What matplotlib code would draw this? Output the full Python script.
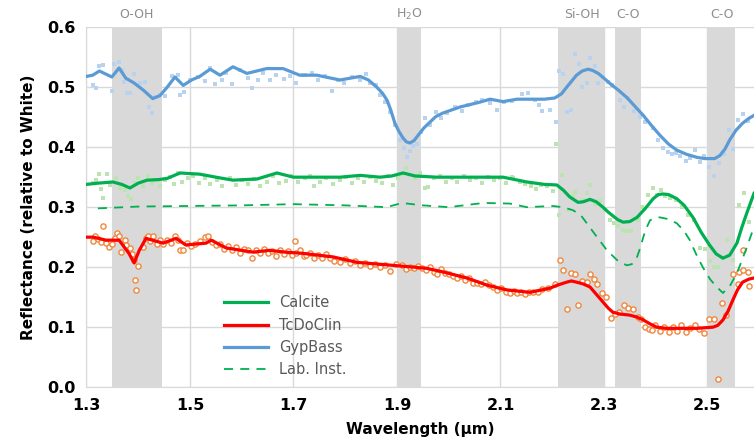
import matplotlib.pyplot as plt

plt.rcParams['font.family'] = ['DejaVu Sans']

# absorption bands (start, end, label)
bandes_debut = [1.350, 1.900, 2.211, 2.321, 2.502]
bandes_fin = [1.445, 1.946, 2.303, 2.371, 2.553]
bandes_nom = ['O-OH', 'H$_2$O', 'Si-OH', 'C-O', 'C-O']

# GypBass smoothed line
gyp_lam = [1.30, 1.312, 1.325, 1.337, 1.349, 1.363, 1.376, 1.392, 1.41, 1.428, 1.442, 1.456,
           1.471, 1.487, 1.503, 1.519, 1.539, 1.558, 1.583, 1.61, 1.648, 1.68, 1.712, 1.745,
           1.79, 1.829, 1.845, 1.861, 1.872, 1.881, 1.888, 1.896, 1.904, 1.912, 1.918, 1.925,
           1.933, 1.941, 1.952, 1.964, 1.975, 1.989, 2.022, 2.06, 2.08, 2.105, 2.132, 2.157,
           2.185, 2.205, 2.218, 2.228, 2.247, 2.258, 2.269, 2.278, 2.289, 2.30, 2.312, 2.328,
           2.344, 2.36, 2.376, 2.392, 2.408, 2.425, 2.441, 2.46, 2.48, 2.495, 2.514, 2.524,
           2.534, 2.543, 2.555, 2.568, 2.58, 2.59]
gyp_val = [0.518, 0.520, 0.527, 0.522, 0.517, 0.532, 0.515, 0.507, 0.495, 0.481, 0.486, 0.500,
           0.517, 0.503, 0.512, 0.518, 0.530, 0.520, 0.534, 0.523, 0.531, 0.531, 0.520, 0.520,
           0.512, 0.518, 0.512, 0.500, 0.490, 0.478, 0.462, 0.440, 0.426, 0.415, 0.409, 0.407,
           0.411, 0.420, 0.432, 0.442, 0.451, 0.457, 0.467, 0.475, 0.480, 0.476, 0.480, 0.480,
           0.480, 0.482, 0.489, 0.500, 0.520, 0.527, 0.530, 0.528, 0.523, 0.515, 0.506, 0.495,
           0.483, 0.468, 0.453, 0.436, 0.420, 0.405, 0.395, 0.388, 0.383, 0.381, 0.381, 0.386,
           0.397, 0.412, 0.428, 0.440, 0.448, 0.453]

# GypBass raw points
gyp_pts_lam = [1.313, 1.318, 1.324, 1.332, 1.349, 1.353, 1.363, 1.368, 1.373, 1.379, 1.384, 1.392,
               1.403, 1.413, 1.421, 1.427, 1.432, 1.442, 1.452, 1.465, 1.477, 1.481, 1.488, 1.5,
               1.515, 1.529, 1.539, 1.548, 1.562, 1.57, 1.581, 1.597, 1.612, 1.62, 1.632, 1.641,
               1.655, 1.666, 1.682, 1.693, 1.705, 1.718, 1.722, 1.736, 1.747, 1.761, 1.774, 1.786,
               1.797, 1.813, 1.828, 1.84, 1.848, 1.859, 1.867, 1.877, 1.886, 1.896, 1.906, 1.913,
               1.919, 1.925, 1.931, 1.939, 1.946, 1.954, 1.964, 1.975, 1.985, 1.996, 2.012, 2.026,
               2.037, 2.053, 2.064, 2.08, 2.093, 2.107, 2.122, 2.142, 2.153, 2.167, 2.175, 2.18,
               2.196, 2.207, 2.213, 2.221, 2.228, 2.236, 2.245, 2.252, 2.258, 2.267, 2.274, 2.283,
               2.289, 2.299, 2.307, 2.315, 2.331, 2.339, 2.347, 2.358, 2.37, 2.379, 2.395, 2.404,
               2.414, 2.423, 2.431, 2.439, 2.447, 2.458, 2.466, 2.476, 2.485, 2.493, 2.503, 2.512,
               2.522, 2.532, 2.541, 2.549, 2.559, 2.569, 2.578]
gyp_pts_val = [0.503, 0.498, 0.535, 0.537, 0.493, 0.538, 0.542, 0.528, 0.508, 0.49, 0.49, 0.522,
               0.507, 0.508, 0.467, 0.457, 0.483, 0.487, 0.485, 0.518, 0.52, 0.487, 0.492, 0.512,
               0.517, 0.51, 0.532, 0.505, 0.512, 0.523, 0.505, 0.528, 0.515, 0.498, 0.512, 0.523,
               0.512, 0.52, 0.513, 0.518, 0.507, 0.52, 0.52, 0.523, 0.512, 0.518, 0.493, 0.512,
               0.507, 0.517, 0.512, 0.522, 0.507, 0.503, 0.487, 0.475, 0.458, 0.437, 0.412, 0.398,
               0.383, 0.393, 0.402, 0.405, 0.425, 0.448, 0.437, 0.458, 0.448, 0.457, 0.467, 0.46,
               0.47, 0.475, 0.478, 0.473, 0.462, 0.475, 0.477, 0.488, 0.49, 0.478, 0.47, 0.46,
               0.462, 0.442, 0.527, 0.522, 0.458, 0.462, 0.555, 0.538, 0.5, 0.507, 0.548, 0.535,
               0.507, 0.517, 0.508, 0.503, 0.478, 0.467, 0.482, 0.46, 0.45, 0.442, 0.432, 0.412,
               0.398, 0.392, 0.388, 0.39, 0.385, 0.377, 0.382, 0.395, 0.375, 0.385, 0.367, 0.352,
               0.373, 0.388, 0.428, 0.397, 0.445, 0.455, 0.443]

# Calcite smoothed line
cal_lam = [1.30, 1.322, 1.351, 1.368, 1.384, 1.40, 1.417, 1.44, 1.456, 1.481, 1.519, 1.55,
           1.583, 1.63, 1.668, 1.70, 1.75, 1.79, 1.829, 1.867, 1.89, 1.912, 1.935, 1.977,
           2.04, 2.105, 2.151, 2.185, 2.209, 2.222, 2.234, 2.25, 2.26, 2.273, 2.285, 2.298,
           2.308, 2.318, 2.327, 2.337, 2.35, 2.364, 2.38, 2.395, 2.405, 2.414, 2.425, 2.441,
           2.455, 2.472, 2.488, 2.504, 2.517, 2.53, 2.543, 2.557, 2.566, 2.576, 2.59]
cal_val = [0.338, 0.340, 0.342, 0.338, 0.332, 0.340, 0.345, 0.346, 0.348, 0.357, 0.355, 0.350,
           0.345, 0.347, 0.357, 0.350, 0.350, 0.350, 0.353, 0.350, 0.352, 0.357, 0.352, 0.350,
           0.350, 0.350, 0.342, 0.338, 0.337, 0.328, 0.317, 0.308, 0.309, 0.313, 0.309, 0.300,
           0.292, 0.285, 0.279, 0.275, 0.276, 0.283, 0.298, 0.314, 0.321, 0.322, 0.321, 0.314,
           0.303, 0.283, 0.258, 0.237, 0.222, 0.215, 0.220, 0.240, 0.265, 0.290, 0.323]

# Calcite raw points
cal_pts_lam = [1.313, 1.318, 1.324, 1.328, 1.332, 1.34, 1.345, 1.357, 1.365, 1.374, 1.38, 1.386,
               1.394, 1.4, 1.409, 1.419, 1.427, 1.434, 1.442, 1.452, 1.461, 1.469, 1.477, 1.485,
               1.496, 1.506, 1.517, 1.529, 1.539, 1.552, 1.562, 1.577, 1.589, 1.601, 1.612, 1.624,
               1.635, 1.649, 1.661, 1.672, 1.685, 1.697, 1.709, 1.722, 1.732, 1.74, 1.751, 1.763,
               1.777, 1.79, 1.801, 1.813, 1.825, 1.836, 1.848, 1.859, 1.871, 1.883, 1.893, 1.902,
               1.912, 1.917, 1.925, 1.935, 1.944, 1.954, 1.96, 1.971, 1.983, 1.994, 2.006, 2.017,
               2.03, 2.041, 2.053, 2.064, 2.076, 2.087, 2.099, 2.111, 2.122, 2.124, 2.138, 2.147,
               2.159, 2.168, 2.178, 2.19, 2.201, 2.207, 2.213, 2.219, 2.23, 2.24, 2.245, 2.259,
               2.267, 2.274, 2.283, 2.292, 2.302, 2.312, 2.32, 2.328, 2.336, 2.344, 2.352, 2.366,
               2.374, 2.385, 2.395, 2.402, 2.41, 2.418, 2.428, 2.439, 2.451, 2.462, 2.474, 2.485,
               2.495, 2.505, 2.512, 2.52, 2.528, 2.537, 2.549, 2.561, 2.57, 2.58]
cal_pts_val = [0.34, 0.345, 0.355, 0.33, 0.315, 0.355, 0.337, 0.348, 0.332, 0.328, 0.318, 0.313,
               0.34, 0.348, 0.335, 0.352, 0.34, 0.345, 0.335, 0.345, 0.35, 0.338, 0.357, 0.342,
               0.348, 0.352, 0.34, 0.348, 0.338, 0.345, 0.335, 0.348, 0.337, 0.345, 0.338, 0.347,
               0.335, 0.342, 0.352, 0.34, 0.343, 0.352, 0.342, 0.348, 0.352, 0.335, 0.342, 0.348,
               0.338, 0.345, 0.35, 0.34, 0.348, 0.342, 0.35, 0.343, 0.34, 0.352, 0.337, 0.348,
               0.355, 0.365, 0.353, 0.348, 0.357, 0.332, 0.333, 0.348, 0.352, 0.342, 0.348, 0.342,
               0.352, 0.345, 0.348, 0.34, 0.35, 0.345, 0.348, 0.34, 0.35, 0.348, 0.342, 0.338,
               0.335, 0.33, 0.337, 0.335, 0.327, 0.405, 0.287, 0.353, 0.295, 0.318, 0.325, 0.312,
               0.323, 0.337, 0.305, 0.31, 0.295, 0.278, 0.273, 0.268, 0.262, 0.26, 0.26, 0.278,
               0.3, 0.32, 0.332, 0.32, 0.328, 0.318, 0.315, 0.312, 0.3, 0.287, 0.278, 0.232,
               0.23, 0.21, 0.2, 0.2, 0.215, 0.245, 0.212, 0.303, 0.323, 0.275]

# Lab. Inst. (calcite laboratory spectrum)
lab_lam = [1.322, 1.40, 1.50, 1.60, 1.70, 1.80, 1.88, 1.91, 1.95, 2.00, 2.067, 2.118,
           2.151, 2.201, 2.22, 2.24, 2.255, 2.267, 2.285, 2.306, 2.325, 2.344, 2.354, 2.364,
           2.37, 2.376, 2.382, 2.389, 2.398, 2.408, 2.425, 2.441, 2.455, 2.466, 2.478, 2.491,
           2.505, 2.518, 2.53, 2.543, 2.557, 2.567, 2.576, 2.583, 2.59]
lab_val = [0.298, 0.301, 0.302, 0.303, 0.305, 0.303, 0.300, 0.307, 0.303, 0.300, 0.307, 0.306,
           0.300, 0.302, 0.300, 0.295, 0.287, 0.273, 0.252, 0.228, 0.212, 0.203, 0.205, 0.217,
           0.232, 0.250, 0.265, 0.278, 0.282, 0.283, 0.280, 0.273, 0.260, 0.245, 0.222, 0.200,
           0.180, 0.167, 0.157, 0.168, 0.190, 0.212, 0.233, 0.250, 0.267]

# TcDoClin smoothed line
tc_lam = [1.30, 1.313, 1.338, 1.363, 1.382, 1.392, 1.402, 1.415, 1.448, 1.473, 1.492, 1.531,
          1.541, 1.57, 1.622, 1.653, 1.685, 1.718, 1.777, 1.823, 1.906, 1.958, 1.989, 2.035,
          2.074, 2.113, 2.157, 2.196, 2.21, 2.228, 2.237, 2.247, 2.26, 2.273, 2.285, 2.298,
          2.308, 2.317, 2.33, 2.35, 2.363, 2.376, 2.39, 2.402, 2.42, 2.453, 2.48, 2.511,
          2.52, 2.53, 2.54, 2.549, 2.558, 2.568, 2.58, 2.59]
tc_val = [0.250, 0.250, 0.245, 0.245, 0.223, 0.207, 0.228, 0.248, 0.240, 0.248, 0.237, 0.240,
          0.245, 0.232, 0.225, 0.228, 0.225, 0.223, 0.217, 0.208, 0.202, 0.198, 0.192, 0.182,
          0.170, 0.162, 0.158, 0.165, 0.170, 0.175, 0.177, 0.175, 0.172, 0.167, 0.155, 0.142,
          0.132, 0.125, 0.122, 0.120, 0.117, 0.112, 0.105, 0.100, 0.098, 0.098, 0.098, 0.100,
          0.103, 0.112, 0.127, 0.145, 0.162, 0.175, 0.180, 0.182]

# TcDoClin raw points
tc_pts_lam = [1.313, 1.317, 1.322, 1.328, 1.332, 1.338, 1.344, 1.349, 1.355, 1.359, 1.363, 1.367,
              1.374, 1.377, 1.384, 1.388, 1.392, 1.394, 1.396, 1.399, 1.409, 1.415, 1.419, 1.423,
              1.428, 1.436, 1.442, 1.448, 1.456, 1.463, 1.471, 1.477, 1.481, 1.486, 1.494, 1.502,
              1.51, 1.519, 1.529, 1.535, 1.543, 1.551, 1.558, 1.566, 1.574, 1.581, 1.589, 1.597,
              1.604, 1.612, 1.62, 1.628, 1.635, 1.643, 1.651, 1.658, 1.666, 1.674, 1.682, 1.689,
              1.697, 1.703, 1.705, 1.713, 1.72, 1.724, 1.732, 1.74, 1.747, 1.755, 1.763, 1.77,
              1.778, 1.79, 1.8, 1.809, 1.819, 1.828, 1.838, 1.848, 1.857, 1.867, 1.877, 1.886,
              1.898, 1.91, 1.917, 1.925, 1.933, 1.941, 1.948, 1.956, 1.964, 1.971, 1.977, 1.985,
              1.993, 2.0, 2.008, 2.016, 2.024, 2.031, 2.039, 2.047, 2.054, 2.062, 2.07, 2.078,
              2.085, 2.093, 2.101, 2.111, 2.118, 2.126, 2.132, 2.14, 2.147, 2.155, 2.163, 2.172,
              2.18, 2.192, 2.205, 2.215, 2.221, 2.228, 2.236, 2.244, 2.25, 2.258, 2.267, 2.273,
              2.28, 2.286, 2.296, 2.304, 2.314, 2.322, 2.33, 2.339, 2.347, 2.357, 2.366, 2.372,
              2.379, 2.387, 2.393, 2.399, 2.408, 2.416, 2.426, 2.433, 2.441, 2.449, 2.458, 2.466,
              2.476, 2.483, 2.493, 2.503, 2.512, 2.52, 2.528, 2.535, 2.549, 2.559, 2.561, 2.568,
              2.568, 2.578, 2.58]
tc_pts_val = [0.243, 0.252, 0.247, 0.242, 0.268, 0.24, 0.233, 0.238, 0.248, 0.257, 0.252, 0.225,
              0.245, 0.237, 0.232, 0.222, 0.212, 0.178, 0.162, 0.202, 0.233, 0.248, 0.252, 0.243,
              0.252, 0.238, 0.245, 0.238, 0.245, 0.24, 0.252, 0.245, 0.228, 0.228, 0.24, 0.235,
              0.238, 0.243, 0.25, 0.252, 0.242, 0.237, 0.238, 0.23, 0.235, 0.228, 0.233, 0.223,
              0.23, 0.228, 0.215, 0.228, 0.223, 0.23, 0.223, 0.227, 0.218, 0.228, 0.222, 0.227,
              0.22, 0.243, 0.223, 0.228, 0.218, 0.22, 0.223, 0.215, 0.22, 0.215, 0.222, 0.215,
              0.21, 0.208, 0.213, 0.207, 0.21, 0.203, 0.207, 0.202, 0.205, 0.2, 0.203, 0.193,
              0.205, 0.203, 0.197, 0.2, 0.198, 0.202, 0.198, 0.195, 0.2, 0.192, 0.188, 0.197,
              0.19, 0.188, 0.185, 0.182, 0.185, 0.178, 0.182, 0.173, 0.173, 0.172, 0.175, 0.17,
              0.167, 0.162, 0.165, 0.158, 0.157, 0.16, 0.157, 0.158, 0.155, 0.158, 0.158, 0.158,
              0.163, 0.165, 0.172, 0.212, 0.195, 0.13, 0.19, 0.188, 0.137, 0.177, 0.175, 0.188,
              0.18, 0.172, 0.157, 0.15, 0.115, 0.122, 0.125, 0.137, 0.132, 0.13, 0.117, 0.113,
              0.1, 0.097, 0.095, 0.103, 0.093, 0.1, 0.092, 0.1, 0.093, 0.103, 0.092, 0.098,
              0.103, 0.097, 0.09, 0.113, 0.113, 0.013, 0.14, 0.12, 0.188, 0.172, 0.192, 0.195,
              0.228, 0.192, 0.168]

couleur_gyp = '#5b9bd5'
couleur_cal = '#00b050'
couleur_tc = '#ff0000'

fig = plt.figure(figsize=(7.54, 4.46), dpi=100)
ax = fig.add_axes([0.1147, 0.132, 0.8853, 0.807])

for debut, fin, nom in zip(bandes_debut, bandes_fin, bandes_nom):
    ax.axvspan(debut, fin, color='#d9d9d9', zorder=0.2, lw=0)
    ax.text((debut + fin) / 2, 1.035, nom, transform=ax.get_xaxis_transform(),
            ha='center', va='center', color='#8c8c8c', fontsize=9)

# raw points
ax.scatter(gyp_pts_lam, gyp_pts_val, marker='s', s=9, color='#b7d3f0', lw=0, zorder=2)
ax.scatter(cal_pts_lam, cal_pts_val, marker='s', s=9, color='#bde3b0', lw=0, zorder=2)
ax.scatter(tc_pts_lam, tc_pts_val, marker='o', s=14, facecolor='white', edgecolor='#f0883e',
           lw=1.0, zorder=2)

# smoothed spectra
ax.plot(cal_lam, cal_val, color=couleur_cal, lw=2.3, label='Calcite', zorder=3, solid_joinstyle='round')
ax.plot(tc_lam, tc_val, color=couleur_tc, lw=2.3, label='TcDoClin', zorder=3, solid_joinstyle='round')
ax.plot(gyp_lam, gyp_val, color=couleur_gyp, lw=2.3, label='GypBass', zorder=3, solid_joinstyle='round')
ax.plot(lab_lam, lab_val, color=couleur_cal, lw=1.3, ls=(0, (5, 4)), label='Lab. Inst.', zorder=3)

ax.set_xlim(1.3, 2.59)
ax.set_ylim(0.0, 0.6)
ax.set_xticks([1.3, 1.5, 1.7, 1.9, 2.1, 2.3, 2.5])
ax.set_yticks([0.0, 0.1, 0.2, 0.3, 0.4, 0.5, 0.6])
ax.set_xticklabels(['1.3', '1.5', '1.7', '1.9', '2.1', '2.3', '2.5'], fontweight='bold', fontsize=11.5)
ax.set_yticklabels(['0.0', '0.1', '0.2', '0.3', '0.4', '0.5', '0.6'], fontweight='bold', fontsize=11.5)
ax.tick_params(length=0, pad=8)
ax.grid(True, color='#d9d9d9', lw=1)
ax.set_axisbelow(True)
for cote in ['top', 'right']:
    ax.spines[cote].set_visible(False)
for cote in ['left', 'bottom']:
    ax.spines[cote].set_color('#d9d9d9')

ax.set_xlabel('Wavelength (µm)', fontweight='bold', fontsize=11, labelpad=6)
ax.set_ylabel('Reflectance (relative to White)', fontweight='bold', fontsize=11, labelpad=8)

leg = ax.legend(loc='upper left', bbox_to_anchor=(0.195, 0.275), frameon=False, fontsize=10.5,
                handlelength=3.0, labelspacing=0.5, borderpad=0)
for t in leg.get_texts():
    t.set_color('#595959')

fig.savefig('out.png', dpi=100)
